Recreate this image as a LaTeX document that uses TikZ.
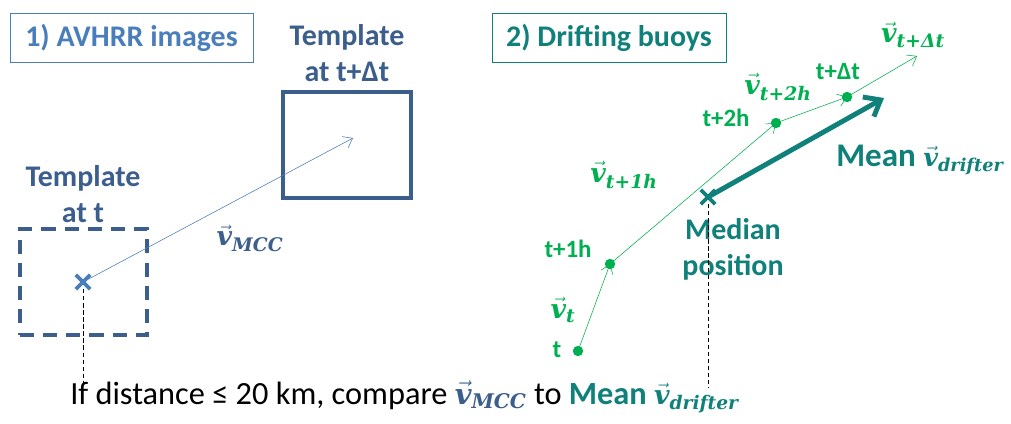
\documentclass[tikz,border=0pt]{standalone}
\usepackage{amsmath}
\usepackage{fontspec}
\setmainfont{Carlito}
\newfontfamily\velfont{DejaVu Serif}
\usetikzlibrary{arrows.meta,shapes.misc}
\definecolor{avblue}{HTML}{4A7EBB}
\definecolor{tplblue}{HTML}{3B5E8C}
\definecolor{buoyteal}{HTML}{10807A}
\definecolor{buoygreen}{HTML}{00B050}
\newcommand{\vel}[1]{$\vec{\text{\velfont\bfseries\itshape v}}_{\text{\velfont\bfseries\itshape #1}}$}

\begin{document}
\begin{tikzpicture}[x=0.025cm,y=-0.025cm,
		every node/.style={font=\bfseries\fontsize{21.3}{25}\selectfont},
		titlebox/.style={draw,thin,minimum height=1.23cm},
		tmpl/.style={tplblue,align=center,anchor=base},
		drop/.style={black,densely dashed,thin},
		dot/.style={circle,fill=buoygreen,inner sep=0pt,minimum size=0.26cm},
		lbl/.style={buoygreen,font=\bfseries\fontsize{17.7}{20}\selectfont},
		vlbl/.style={font=\fontsize{19}{22}\selectfont},
		crossmark/.style={cross out,draw,line width=2.6pt,inner sep=0pt,minimum size=0.27cm},
		thinarrow/.style={thin,-{Straight Barb[length=6pt,width=9pt]}}]
		\useasboundingbox (0,0) rectangle (1011,423);
		% 1) AVHRR images
		\node[titlebox,avblue,minimum width=6.08cm] (avhrr) at (131.5,38) {1) AVHRR images};
		\node[tmpl] (tnextlbl) at (347,81) {Template\\at t+Δt};
		\node[draw=tplblue,line width=2.2pt,minimum width=3.2cm,minimum height=2.65cm] (tnext) at (347,145) {};
		\node[tmpl] (tnowlbl) at (83,222) {Template\\at t};
		\node[draw=tplblue,line width=2.5pt,dash pattern=on 10pt off 6.5pt,minimum width=3.18cm,minimum height=2.65cm] (tnow) at (83.5,282) {};
		\node[crossmark,avblue] (mccpos) at (83,282) {};
		\coordinate (mccend) at (353,138);
		\draw[thinarrow,avblue] (mccpos.center) -- (mccend);
		\node[vlbl,tplblue] (vmcc) at (250,238) {\vel{MCC}};
		% 2) Drifting buoys
		\node[titlebox,buoyteal,minimum width=5.85cm] (buoys) at (609,38) {2) Drifting buoys};
		\node[dot] (p0) at (578,351) {};
		\node[dot] (p1) at (610,264) {};
		\node[dot] (p2) at (776,123) {};
		\node[dot] (p3) at (847,97) {};
		\coordinate (p4) at (917,56);
		\draw[thinarrow,buoygreen] (p0.center) -- (p1.center);
		\draw[thinarrow,buoygreen] (p1.center) -- (p2.center);
		\draw[thinarrow,buoygreen] (p2.center) -- (p3.center);
		\draw[thinarrow,buoygreen] (p3.center) -- (p4);
		\node[lbl,anchor=base] (l0) at (557,357) {t};
		\node[lbl,anchor=base] (l1) at (568,257) {t+1h};
		\node[lbl,anchor=base] (l2) at (726,126) {t+2h};
		\node[lbl,anchor=base] (l3) at (838,79) {t+Δt};
		\node[vlbl,buoygreen] (v0) at (563,310) {\vel{t}};
		\node[vlbl,buoygreen] (v1) at (624,175) {\vel{t+1h}};
		\node[vlbl,buoygreen] (v2) at (778,87) {\vel{t+2h}};
		\node[vlbl,buoygreen] (v3) at (913,35) {\vel{t+Δt}};
		\node[crossmark,buoyteal] (median) at (708,197) {};
		\coordinate (meanend) at (884,98);
		\draw[buoyteal,line width=3.5pt,-{Straight Barb[length=10pt,width=16pt]}] (median.center) -- (meanend);
		\node[buoyteal,anchor=base west,inner sep=0pt,font=\bfseries\fontsize{23.5}{28}\selectfont] (meanlbl) at (836,166)
			{Mean {\fontsize{18}{22}\selectfont\vel{drifter}}};
		\node[buoyteal,align=center,anchor=base] (medlbl) at (733,275) {Median\\position};
		% comparison
		\node[anchor=base west,inner sep=0pt,font=\mdseries\fontsize{23}{26}\selectfont] (compare) at (70,404)
			{If distance ≤ 20 km, compare {\fontsize{20.5}{24}\selectfont\color{tplblue}\vel{MCC}} to {\bfseries\color{buoyteal}Mean {\fontsize{19}{24}\selectfont\vel{drifter}}}};
		\coordinate (mccfoot) at (83,384);
		\coordinate (medfoot) at (708,388);
		\draw[drop] (mccpos.south) -- (mccfoot);
		\draw[drop] (median.south) -- (medfoot);
	\end{tikzpicture}
\end{document}
